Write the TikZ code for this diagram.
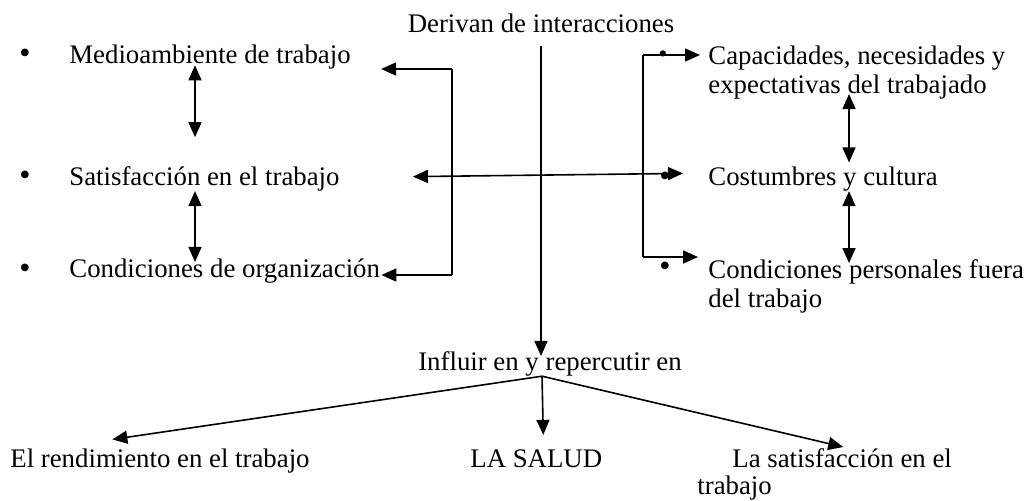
\documentclass[tikz,border=0pt]{standalone}
\usepackage{fontspec}
\setmainfont{Liberation Serif}
\usetikzlibrary{arrows.meta}

\begin{document}
\begin{tikzpicture}[x=0.5pt,y=-0.5pt,
  txt/.style={inner sep=0pt,font=\fontsize{13.4}{14.75}\selectfont,align=left},
  dot/.style={inner sep=0pt,font=\fontsize{16}{16}\selectfont},
  link/.style={line width=0.8pt},
  arr/.style={link,-{Triangle[length=7.5pt,width=6.5pt]}},
  dbl/.style={link,{Triangle[length=7.5pt,width=6.5pt]}-{Triangle[length=7.5pt,width=6.5pt]}}]
\useasboundingbox (0,0) rectangle (1026,500);

% top and middle
\node[txt,anchor=base] (der) at (541,32) {Derivan de interacciones};
\node[txt,anchor=base] (infl) at (550,370) {Influir en y repercutir en};

% left column
\node[dot] (lb1) at (25,56) {\textbullet};
\node[dot] (lb2) at (25,178) {\textbullet};
\node[dot] (lb3) at (25,271) {\textbullet};
\node[txt,anchor=base west] (med) at (69,63) {Medioambiente de trabajo};
\node[txt,anchor=base west] (sat) at (69,185) {Satisfacción en el trabajo};
\node[txt,anchor=base west] (cond) at (69,277) {Condiciones de organización};

% right column
\node[dot,font=\fontsize{13}{13}\selectfont] (rb1) at (663,57) {\textbullet};
\node[dot] (rb2) at (665,179) {\textbullet};
\node[dot] (rb3) at (665,269) {\textbullet};
\node[txt,anchor=north west] (cap) at (708,45) {Capacidades, necesidades y\\expectativas del trabajado};
\node[txt,anchor=base west] (cost) at (708,185) {Costumbres y cultura};
\node[txt,anchor=north west] (condp) at (708,259) {Condiciones personales fuera\\del trabajo};

% bottom row
\node[txt,anchor=base west] (rend) at (10,467) {El rendimiento en el trabajo};
\node[txt,anchor=base west] (salud) at (470,467) {LA SALUD};
\node[txt,anchor=north west,font=\fontsize{13.4}{13.8}\selectfont] (satis) at (697,448)
  {\hspace*{17.5pt}La satisfacción en el\\trabajo};

% helper points
\coordinate (lax) at (195,0);
\coordinate (rax) at (849,0);
\coordinate (lbt) at (452,69);
\coordinate (lbb) at (452,275);
\coordinate (rbt) at (643,55);
\coordinate (rbb) at (643,257);
\coordinate (fork) at ([xshift=-4pt]infl.south);

% double arrows inside the columns
\draw[dbl,shorten <=-1.9pt,shorten >=14.3pt] (lax |- med.south) -- (lax |- sat.north);
\draw[dbl,shorten >=-2pt] (lax |- sat.south) -- (lax |- cond.north);
\draw[dbl,shorten <=-2.8pt,shorten >=1.8pt] (rax |- cap.south) -- (rax |- cost.north);
\draw[dbl,shorten >=-2pt] (rax |- cost.south) -- (rax |- condp.north);

% brackets
\draw[link] (lbt) -- (lbb);
\draw[arr] (lbt) -- ([xshift=15pt]lbt -| med.east);
\draw[arr] (lbb) -- ([xshift=0.5pt]lbb -| cond.east);
\draw[link] (rbt) -- (rbb);
\draw[arr] (rbt) -- ([xshift=-4pt]rbt -| cap.west);
\draw[arr] (rbb) -- ([xshift=-5pt]rbb -| condp.west);

% cross links
\draw[dbl] ([xshift=36.5pt,yshift=0.9pt]sat.east) -- ([xshift=-12.5pt,yshift=2.6pt]cost.west);
\draw[arr,shorten <=6.5pt,shorten >=-2.6pt] (der.south) -- (der.south |- infl.north);

% results
\draw[arr] (fork) -- ([xshift=-23.8pt,yshift=4.3pt]rend.north);
\draw[arr] (fork) -- ([xshift=3.5pt,yshift=7pt]salud.north);
\draw[arr] (fork) -- ([xshift=9.3pt,yshift=0.5pt]satis.north);
\end{tikzpicture}
\end{document}
